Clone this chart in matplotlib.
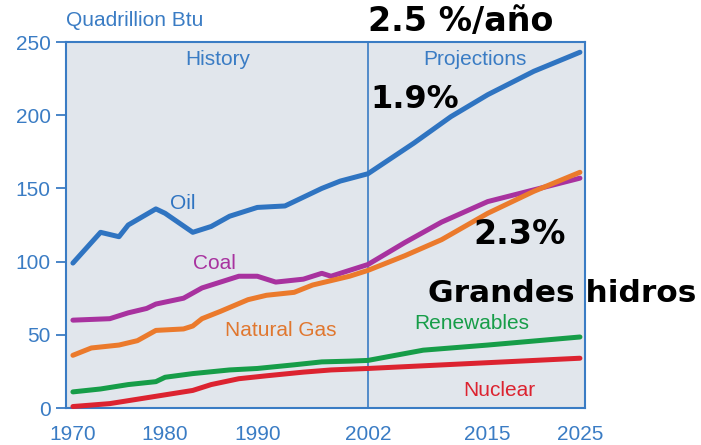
import matplotlib
matplotlib.use("Agg")
import matplotlib.pyplot as plt

# world energy use by fuel, quadrillion Btu
oil_years = [1970, 1973, 1975, 1976, 1979, 1980, 1983, 1985, 1987, 1989, 1990, 1993, 1994, 1997, 1999, 2002,
             2007, 2011, 2015, 2020, 2025]
oil = [99, 120, 117, 125, 136, 133, 120, 124, 131, 135, 137, 138, 141, 150, 155, 160,
       181, 199, 214, 230, 243]

coal_years = [1970, 1974, 1976, 1978, 1979, 1982, 1984, 1986, 1988, 1990, 1992, 1995, 1997, 1998, 2000, 2002,
              2006, 2010, 2015, 2020, 2025]
coal = [60, 61, 65, 68, 71, 75, 82, 86, 90, 90, 86, 88, 92, 90, 94, 98,
        113, 127, 141, 149, 157]

gas_years = [1970, 1972, 1975, 1977, 1979, 1982, 1983, 1984, 1986, 1989, 1991, 1994, 1996, 1998, 2000, 2002,
             2006, 2010, 2015, 2020, 2025]
gas = [36, 41, 43, 46, 53, 54, 56, 61, 66, 74, 77, 79, 84, 87, 90, 94,
       104, 115, 133, 148, 161]

ren_years = [1970, 1973, 1976, 1979, 1980, 1983, 1987, 1990, 1994, 1997, 2000, 2002, 2008, 2015, 2025]
renewables = [11, 13, 16, 18, 21, 23.5, 26, 27, 29.5, 31.5, 32, 32.5, 39.5, 43, 48.5]

nuc_years = [1970, 1974, 1977, 1980, 1983, 1985, 1988, 1991, 1995, 1998, 2002, 2025]
nuclear = [1, 3, 6, 9, 12, 16, 20, 22, 24.5, 26, 27, 34]

x_ticks = [1970, 1980, 1990, 2002, 2015, 2025]
y_ticks = [0, 50, 100, 150, 200, 250]

BLUE = "#3a7cc4"
W, H = 701, 445

fig = plt.figure(figsize=(W / 100, H / 100), dpi=100)
ax = fig.add_axes([66 / W, 1 - 408 / H, (585 - 66) / W, (408 - 42) / H])
ax.set_facecolor("#e1e6ec")

series = [
    (oil_years, oil, "#2f74c1"),
    (coal_years, coal, "#a8329f"),
    (gas_years, gas, "#eb7a2c"),
    (ren_years, renewables, "#169d48"),
    (nuc_years, nuclear, "#dc2330"),
]
for xs, ys, c in series:
    ax.plot(xs, ys, color=c, lw=3.6, solid_capstyle="round", clip_on=False, zorder=3)

ax.axvline(2002, color=BLUE, lw=1.2, zorder=2)
ax.set_xlim(1969.25, 2025.55)
ax.set_ylim(0, 250)
ax.set_xticks(x_ticks)
ax.set_yticks(y_ticks)
ax.tick_params(axis="x", length=0, labelsize=15, labelcolor=BLUE, pad=12)
ax.tick_params(axis="y", length=7, width=1.3, color=BLUE, labelsize=15, labelcolor=BLUE, pad=4)
for t in ax.get_xticklabels() + ax.get_yticklabels():
    t.set_family("Liberation Sans")
for s in ax.spines.values():
    s.set_color(BLUE)
    s.set_linewidth(1.5)

lab = dict(fontsize=15, ha="center", va="center", family="Liberation Sans")
ax.text(1985.7, 238, "History", color=BLUE, **lab)
ax.text(2013.6, 238, "Projections", color=BLUE, **lab)
ax.text(1981.9, 140, "Oil", color="#2f74c1", **lab)
ax.text(1985.4, 99, "Coal", color="#a8329f", **lab)
ax.text(1992.5, 53, "Natural Gas", color="#e0772f", **lab)
ax.text(2013.3, 58, "Renewables", color="#169d48", **lab)
ax.text(2016.3, 12, "Nuclear", color="#dc2330", **lab)

fig.text(66 / W, 1 - 20 / H, "Quadrillion Btu", color=BLUE, fontsize=15,
         family="Liberation Sans", va="center", ha="left")

big = dict(fontweight="bold", color="black", va="center", ha="left", family="DejaVu Sans")
fig.text(368 / W, 1 - 22 / H, "2.5 %/año", fontsize=24, **big)
fig.text(370 / W, 1 - 100 / H, "1.9%", fontsize=23, **big)
fig.text(473 / W, 1 - 235 / H, "2.3%", fontsize=24, **big)
fig.text(428 / W, 1 - 293 / H, "Grandes hidros", fontsize=22.5, **big)

fig.savefig("out.png", dpi=100)
